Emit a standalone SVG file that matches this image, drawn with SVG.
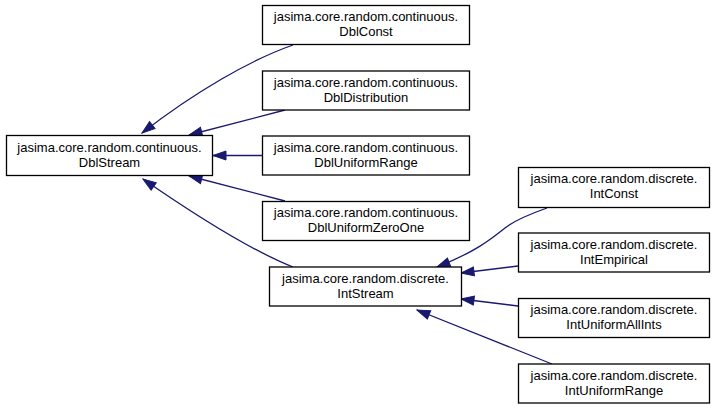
<svg xmlns="http://www.w3.org/2000/svg" width="715" height="409" viewBox="0 0 715 409">
<style>
.n rect{fill:#fff;stroke:#000;stroke-width:1.3}
.n text{font-family:"Liberation Sans",Arial,sans-serif;font-size:13px;fill:#000;text-anchor:middle}
.e path{fill:none;stroke:#191970;stroke-width:1.3}
</style>
<defs>
<marker id="ah" markerUnits="userSpaceOnUse" markerWidth="15" markerHeight="11" refX="14" refY="5.5" orient="auto">
<path d="M1,1 L14,5.5 L1,10 z" fill="#191970" stroke="#191970" stroke-width="1"/>
</marker>
</defs>
<rect width="715" height="409" fill="#fff"/>
<g id="edges" class="e">
<path d="M293,45 C250,60 195,92 142,133" marker-end="url(#ah)"/>
<path d="M285,110 L189,135" marker-end="url(#ah)"/>
<path d="M262,155.5 L213,155.5" marker-end="url(#ah)"/>
<path d="M285,201 L189,176" marker-end="url(#ah)"/>
<path d="M293,267 C250,250 195,215 143,179" marker-end="url(#ah)"/>
<path d="M547,208 C530,214 515,220 505,228 C490,240 475,252 437,267" marker-end="url(#ah)"/>
<path d="M518,266 L461,273" marker-end="url(#ah)"/>
<path d="M518,306 L461,299" marker-end="url(#ah)"/>
<path d="M552,364 L417,310" marker-end="url(#ah)"/>
</g>
<g id="DblStream" class="n"><rect x="6.5" y="135.5" width="206" height="40"/><text x="109.5" y="152">jasima.core.random.continuous.</text><text x="109.5" y="167">DblStream</text></g>
<g id="DblConst" class="n"><rect x="262.5" y="5.5" width="207" height="39"/><text x="366" y="21">jasima.core.random.continuous.</text><text x="366" y="36">DblConst</text></g>
<g id="DblDistribution" class="n"><rect x="262.5" y="71" width="207" height="39"/><text x="366" y="86.5">jasima.core.random.continuous.</text><text x="366" y="101.5">DblDistribution</text></g>
<g id="DblUniformRange" class="n"><rect x="262.5" y="136" width="207" height="39"/><text x="366" y="151.5">jasima.core.random.continuous.</text><text x="366" y="166.5">DblUniformRange</text></g>
<g id="DblUniformZeroOne" class="n"><rect x="262.5" y="201.5" width="207" height="39"/><text x="366" y="217">jasima.core.random.continuous.</text><text x="366" y="232">DblUniformZeroOne</text></g>
<g id="IntStream" class="n"><rect x="269.5" y="267" width="192" height="39"/><text x="365.5" y="282.5">jasima.core.random.discrete.</text><text x="365.5" y="297.5">IntStream</text></g>
<g id="IntConst" class="n"><rect x="518.5" y="167.5" width="191" height="40"/><text x="614" y="183">jasima.core.random.discrete.</text><text x="614" y="198">IntConst</text></g>
<g id="IntEmpirical" class="n"><rect x="518.5" y="233" width="191" height="39"/><text x="614" y="248.5">jasima.core.random.discrete.</text><text x="614" y="263.5">IntEmpirical</text></g>
<g id="IntUniformAllInts" class="n"><rect x="518.5" y="298.5" width="191" height="39"/><text x="614" y="314">jasima.core.random.discrete.</text><text x="614" y="329">IntUniformAllInts</text></g>
<g id="IntUniformRange" class="n"><rect x="518.5" y="364" width="191" height="39"/><text x="614" y="379.5">jasima.core.random.discrete.</text><text x="614" y="394.5">IntUniformRange</text></g>
</svg>
